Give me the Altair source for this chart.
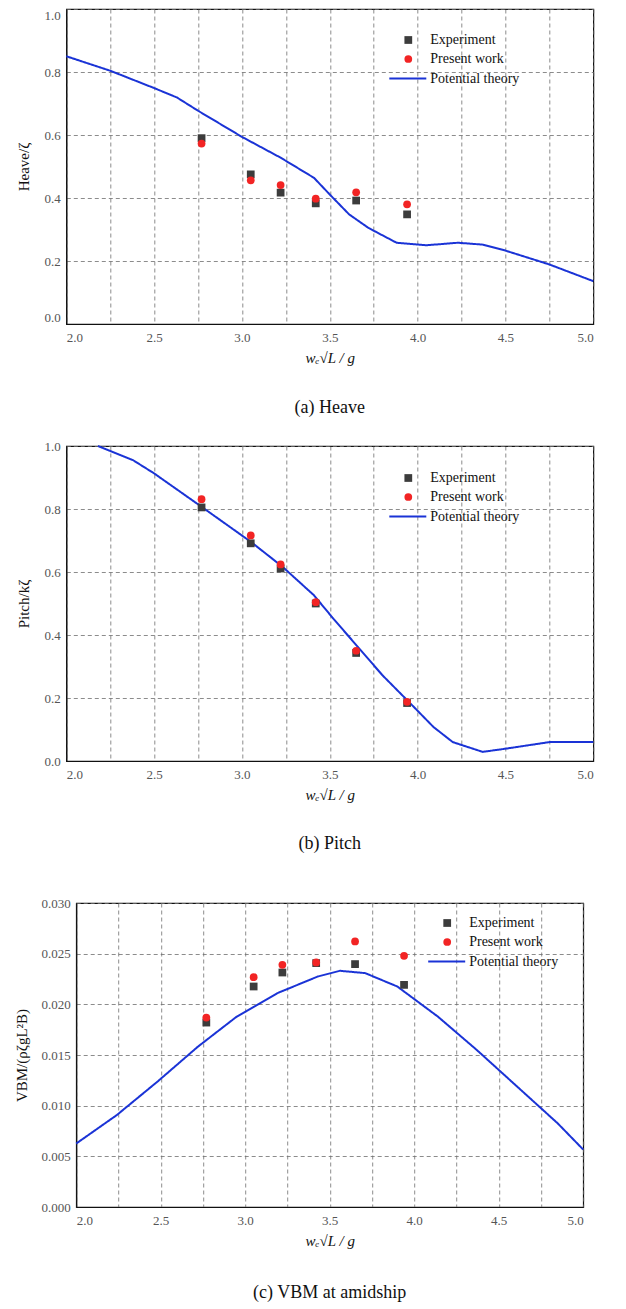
import altair as alt
import pandas as pd

# ---------------- data ----------------
x_exp = [2.77, 3.05, 3.22, 3.42, 3.65, 3.94]

heave_exp = [0.590, 0.475, 0.417, 0.383, 0.392, 0.348]
heave_pw = [0.573, 0.456, 0.441, 0.398, 0.418, 0.380]
heave_th_x = [2.0, 2.25, 2.5, 2.63, 2.75, 3.0, 3.22, 3.41, 3.5, 3.61, 3.72, 3.88,
              4.05, 4.23, 4.37, 4.5, 4.75, 5.0]
heave_th_y = [0.850, 0.804, 0.749, 0.719, 0.677, 0.594, 0.528, 0.464, 0.411, 0.348,
              0.305, 0.258, 0.250, 0.258, 0.252, 0.233, 0.189, 0.136]

pitch_exp = [0.805, 0.691, 0.611, 0.500, 0.343, 0.184]
pitch_pw = [0.831, 0.716, 0.624, 0.504, 0.350, 0.188]
pitch_th_x = [2.18, 2.38, 2.5, 2.77, 3.05, 3.23, 3.41, 3.52, 3.66, 3.8, 3.96, 4.09,
              4.2, 4.37, 4.5, 4.75, 5.0]
pitch_th_y = [1.000, 0.955, 0.913, 0.807, 0.696, 0.617, 0.526, 0.452, 0.362, 0.272,
              0.182, 0.108, 0.060, 0.029, 0.039, 0.060, 0.060]

vbm_exp = [0.0182, 0.02176, 0.02314, 0.02407, 0.02397, 0.02192]
vbm_pw = [0.01869, 0.02268, 0.0239, 0.02413, 0.02621, 0.02479]
vbm_th_x = [2.0, 2.24, 2.48, 2.72, 2.95, 3.19, 3.43, 3.56, 3.71, 3.9, 4.14, 4.37,
            4.61, 4.85, 5.0]
vbm_th_y = [0.00626, 0.00907, 0.01236, 0.01582, 0.01879, 0.0211, 0.02275, 0.02331,
            0.02308, 0.02176, 0.01879, 0.0155, 0.01187, 0.00824, 0.00567]

series_names = ["Experiment", "Present work"]
theory_name = "Potential theory"

SERIF = "Liberation Serif"
BLUE = "#1a33d6"
GREY = "#3c3c3c"
RED = "#f22424"

IND = dict(color="independent", shape="independent", strokeDash="independent",
           x="independent", y="independent")


def panel(th_x, th_y, exp, pw, ymax, yminor, yfmt, ytitle, caption, w, h, lx, ly,
          cap_off, ytitle_pad, flush=False):
    pts = pd.DataFrame({
        "x": x_exp + x_exp,
        "y": exp + pw,
        "series": [series_names[0]] * len(exp) + [series_names[1]] * len(pw),
    })
    th = pd.DataFrame({"x": th_x, "y": th_y, "name": [theory_name] * len(th_x)})

    xvals = [2 + 0.25 * i for i in range(13)]
    n = int(round(ymax / yminor))
    yvals = [round(yminor * i, 6) for i in range(n + 1)]

    grid_kw = dict(grid=True, gridColor="#6e6e6e", gridDash=[4, 3], gridWidth=0.8,
                   ticks=False, tickSize=0, domainColor="#111", domainWidth=1.2,
                   labelFont=SERIF, labelFontSize=13, labelColor="#555",
                   titleFont=SERIF, titleFontSize=15, titleColor="#111",
                   titleFontWeight="normal")

    xscale = alt.Scale(domain=[2, 5], nice=False, zero=False)
    yscale = alt.Scale(domain=[0, ymax], nice=False)

    xaxis = alt.Axis(values=xvals, title="wₑ√L / g", titleFontStyle="italic",
                     labelExpr="abs(datum.value*2 - round(datum.value*2)) < 0.001 ? format(datum.value, '.1f') : ''",
                     labelPadding=7, titlePadding=6, **grid_kw)
    ykw = dict(labelFlush=True) if flush else {}
    yaxis = alt.Axis(values=yvals, title=ytitle,
                     labelExpr=f"round(datum.value/{yminor}) % 2 == 0 ? format(datum.value, '{yfmt}') : ''",
                     labelPadding=6, titlePadding=ytitle_pad, **ykw, **grid_kw)

    line = alt.Chart(th).mark_line(color=BLUE, strokeWidth=2).encode(
        x=alt.X("x:Q", scale=xscale, axis=xaxis),
        y=alt.Y("y:Q", scale=yscale, axis=yaxis),
        strokeDash=alt.StrokeDash(
            "name:N",
            scale=alt.Scale(domain=[theory_name], range=[[1, 0]]),
            legend=alt.Legend(orient="none", legendX=lx - 13, legendY=ly + 26,
                              title=None, symbolType="stroke",
                              symbolStrokeColor=BLUE, symbolStrokeWidth=2,
                              symbolSize=1369, labelOffset=3,
                              labelFont=SERIF, labelFontSize=14, labelColor="#111"),
        ),
    )

    leg = alt.Legend(orient="none", legendX=lx, legendY=ly, title=None,
                     symbolSize=60, labelOffset=15, rowPadding=5,
                     labelFont=SERIF, labelFontSize=14, labelColor="#111",
                     symbolStrokeWidth=0)
    points = alt.Chart(pts).mark_point(filled=True, size=60, opacity=1).encode(
        x=alt.X("x:Q", scale=xscale),
        y=alt.Y("y:Q", scale=yscale),
        color=alt.Color("series:N",
                        scale=alt.Scale(domain=series_names, range=[GREY, RED]),
                        legend=leg),
        shape=alt.Shape("series:N",
                        scale=alt.Scale(domain=series_names, range=["square", "circle"]),
                        legend=leg),
        order=alt.Order("series:N"),
    )

    return alt.layer(line, points).properties(
        width=w, height=h,
        title=alt.TitleParams(caption, orient="bottom", anchor="middle",
                              font=SERIF, fontSize=18, fontWeight="normal",
                              color="#111", offset=cap_off),
    ).resolve_scale(color="independent", shape="independent", strokeDash="independent")


pa = panel(heave_th_x, heave_th_y, heave_exp, heave_pw, 1.0, 0.1, ".1f",
           "Heave/ζ", "(a) Heave", 527, 315, 335, 24, 34, 13, flush=True)
pb = panel(pitch_th_x, pitch_th_y, pitch_exp, pitch_pw, 1.0, 0.1, ".1f",
           "Pitch/kζ", "(b) Pitch", 527, 315, 335, 25, 33, 13)
pc = panel(vbm_th_x, vbm_th_y, vbm_exp, vbm_pw, 0.03, 0.0025, ".3f",
           "VBM/(ρζgL²B)", "(c) VBM at amidship", 507, 304, 364, 13, 36, 11)

top = alt.vconcat(pa, pb, spacing=21, center=True).resolve_scale(**IND)
bottom = alt.vconcat(pc, center=True).resolve_scale(**IND)

chart = alt.vconcat(top, bottom, spacing=42, center=True).resolve_scale(**IND).properties(
    padding={"top": 0, "left": 6, "right": 0, "bottom": 0},
    background="white",
).configure_view(stroke="#111", strokeWidth=1.2)

chart.save("out.html", embed_options={"renderer": "svg", "actions": False})
